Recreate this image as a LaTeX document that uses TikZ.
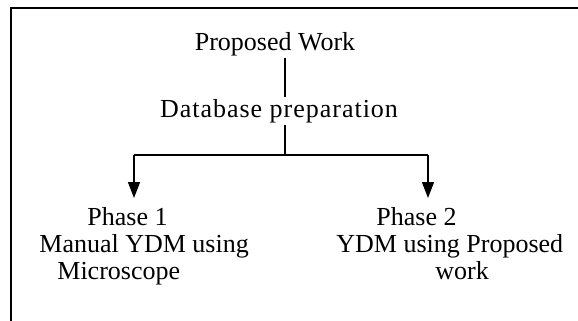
\documentclass[tikz,border=0pt]{standalone}
\usepackage{fontspec}
\setmainfont{Liberation Serif}
\usetikzlibrary{arrows.meta}

\begin{document}
\begin{tikzpicture}[x=0.5pt,y=-0.5pt,
		every node/.style={font=\fontsize{13}{13.5}\selectfont},
		link/.style={line width=0.8pt},
		arr/.style={line width=0.8pt,-{Triangle[length=8pt,width=6pt]},shorten >=4.5pt}]
			%%%%% START %%%%%
			
			\useasboundingbox (0,0) rectangle (578,321);
			
			\draw[line width=1.2pt] (11,321) -- (11,8) -- (578,8);
			
			\node[inner sep=1pt] (work) at (275,44) {Proposed Work};
			\node[inner sep=1pt] (dbprep) at (279,111) {\addfontfeature{LetterSpace=3.8}Database preparation};
			
			\coordinate (split) at (285,155);
			\coordinate (left) at (134,155);
			\coordinate (right) at (428,155);
			
			\node[align=left, anchor=north west, inner sep=0pt] (phaseone) at (39,207)
				{\hspace*{24pt}Phase 1\\Manual YDM using\\\hspace*{9pt}Microscope};
			\node[align=left, anchor=north west, inner sep=0pt] (phasetwo) at (336,207)
				{\hspace*{20pt}Phase 2\\YDM using Proposed\\\hspace*{49.5pt}work};
			
			\draw[link] (split |- work.south) -- (split |- dbprep.north);
			\draw[link] (split |- dbprep.south) -- (split);
			\draw[link] (left) -- (right);
			
			\draw[arr] (left) -- (left |- phaseone.north);
			\draw[arr] (right) -- (right |- phasetwo.north);
			
			%%%%% END %%%%%
\end{tikzpicture}
\end{document}
